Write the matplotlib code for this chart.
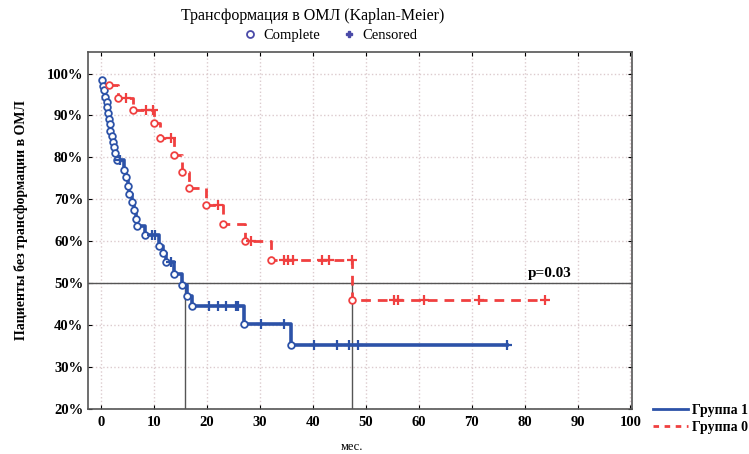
import numpy as np
import matplotlib
matplotlib.use("Agg")
import matplotlib.pyplot as plt
from matplotlib.lines import Line2D

plt.rcParams['font.family'] = ['Liberation Serif', 'DejaVu Serif']

# Группа 1 (blue): event times (months) and survival (%) after each event
g1_t = [0.2, 0.4, 0.6, 0.75, 1.0, 1.1, 1.3, 1.5, 1.6, 1.75, 2.0, 2.3, 2.4, 2.6, 2.9,
        4.3, 4.7, 5.0, 5.3, 5.8, 6.2, 6.5, 6.8, 8.2, 10.9, 11.6, 12.3, 13.8, 15.2,
        16.3, 17.2, 26.9, 35.9]
g1_s = [98.5, 97.1, 96.0, 94.5, 93.2, 92.0, 90.6, 89.2, 87.9, 86.4, 85.1, 83.7, 82.5,
        81.0, 79.3, 77.0, 75.3, 73.3, 71.3, 69.4, 67.4, 65.4, 63.6, 61.4, 59.0, 57.1,
        55.1, 52.3, 49.5, 46.9, 44.5, 40.4, 35.3]
g1_cens = [3.6, 9.5, 10.1, 13.2, 20.4, 22.1, 23.6, 25.5, 25.8, 30.2, 34.6,
           40.2, 44.5, 46.8, 48.5, 76.6]

# Группа 0 (red)
g0_t = [1.4, 3.1, 6.0, 9.9, 11.1, 13.8, 15.3, 16.5, 19.8, 23.1, 27.2, 32.1, 47.4]
g0_s = [97.3, 94.2, 91.4, 88.2, 84.7, 80.6, 76.6, 72.7, 68.7, 64.2, 60.0, 55.5, 46.1]
g0_cens = [4.7, 8.5, 9.75, 13.2, 22.0, 28.3, 34.6, 35.3, 36.2, 41.8, 43.1, 47.3,
           55.3, 56.1, 60.9, 71.4, 83.8]

medians = [15.8, 47.4]
p_text = "p=0.03"

blue = '#2c52a8'
red = '#f04040'


def km_level(times, surv, t):
    i = np.searchsorted(times, t, side='right') - 1
    return surv[max(i, 0)]


def draw_group(ax, times, surv, cens, color, ls, lw):
    times = np.array(times)
    surv = np.array(surv)
    end = max(max(cens), times[-1])
    xs = np.append(times, end)
    ys = np.append(surv, surv[-1])
    ax.step(xs, ys, where='post', color=color, ls=ls, lw=lw, zorder=3)
    ax.plot(times, surv, 'o', ms=4.8, mfc='white', mec=color, mew=1.3, zorder=4)
    cy = [km_level(times, surv, c) for c in cens]
    ax.plot(cens, cy, '+', ms=7, color=color, mew=1.6, zorder=4)


fig = plt.figure(figsize=(7.49, 4.54), dpi=100)
ax = fig.add_axes([0.1175, 0.099, 0.7263, 0.787])

ax.set_xlim(-2.5, 100.3)
ax.set_ylim(20, 105.2)
ax.set_xticks(np.arange(0, 101, 10))
ax.set_yticks(np.arange(20, 101, 10))
ax.set_yticklabels([f"{v}%" for v in range(20, 101, 10)])
ax.grid(True, ls=':', color='#dccbce', lw=1)
ax.set_axisbelow(True)
ax.tick_params(direction='in', length=3, top=True, right=True, labelsize=10.5)
ax.tick_params(axis='x', pad=5)
for lab in ax.get_xticklabels() + ax.get_yticklabels():
    lab.set_fontweight('bold')
for sp in ax.spines.values():
    sp.set_color('#555555')
    sp.set_linewidth(1.2)

# reference lines at 50 %
ax.axhline(50, color='#555555', lw=1, zorder=2)
for m in medians:
    ax.plot([m, m], [20, 50], color='#555555', lw=1, zorder=2)

draw_group(ax, g1_t, g1_s, g1_cens, blue, '-', 2.6)
draw_group(ax, g0_t, g0_s, g0_cens, red, (0, (3.5, 2.5)), 2.0)

ax.text(80.6, 51.6, p_text, fontsize=11, fontweight='bold')

ax.set_ylabel("Пациенты без трансформации в ОМЛ", fontsize=10, fontweight='bold')
ax.yaxis.set_label_coords(-0.11, 0.53)
ax.set_xlabel("мес.", fontsize=9)
ax.xaxis.set_label_coords(0.485, -0.09)

fig.text(0.418, 0.965, "Трансформация в ОМЛ (Kaplan-Meier)", fontsize=11.5,
         ha='center', va='center')

# marker legend on top
top_handles = [Line2D([], [], ls='none', marker='o', ms=5, mfc='white', mec='#4a4aa8', mew=1.3),
               Line2D([], [], ls='none', marker='P', ms=5, color='#4a4aa8')]
fig.legend(top_handles, ['Complete', 'Censored'], loc='center', bbox_to_anchor=(0.44, 0.922),
           ncol=2, frameon=False, fontsize=10.5, handletextpad=0.3, columnspacing=1.4,
           handlelength=1.2)

# group legend at bottom right
grp_handles = [Line2D([], [], color=blue, lw=2),
               Line2D([], [], color=red, lw=2, ls=(0, (2, 2)))]
leg = fig.legend(grp_handles, ['Группа 1', 'Группа 0'], loc='center left',
                 bbox_to_anchor=(0.855, 0.077), frameon=False, fontsize=10,
                 handlelength=2.5, handletextpad=0.3, labelspacing=0.3)
for t in leg.get_texts():
    t.set_fontweight('bold')

fig.savefig('out.png', dpi=100)
